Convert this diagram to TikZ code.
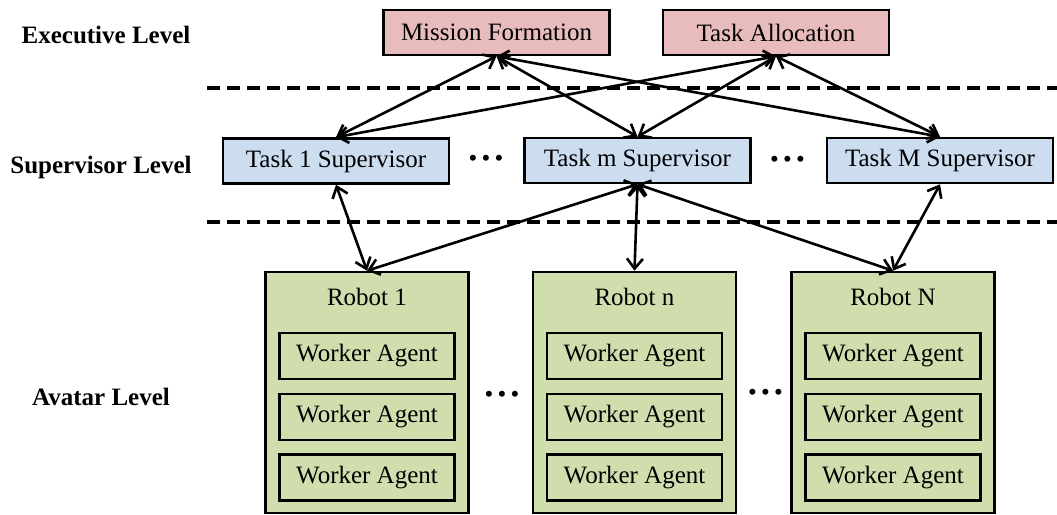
\documentclass[tikz,border=0pt]{standalone}
\usepackage{fontspec}
\setmainfont{Liberation Serif}
\usetikzlibrary{arrows.meta}
\definecolor{execred}{RGB}{232,188,188}
\definecolor{superblue}{RGB}{205,221,240}
\definecolor{robotgreen}{RGB}{208,222,174}
\newcommand{\tridots}{\textbullet\,\textbullet\,\textbullet}

\begin{document}
\begin{tikzpicture}[x=0.5pt,y=-0.5pt,
  font=\fontsize{12.5}{15}\selectfont,
  >={Straight Barb[length=5pt,width=8pt,line width=1.3pt]},
  box/.style={draw,line width=1.3pt,minimum height=22.5pt,inner sep=0pt},
  execbox/.style={box,fill=execred,minimum width=113pt},
  supbox/.style={box,fill=superblue,minimum width=113pt},
  robotbox/.style={box,fill=robotgreen,minimum width=101.5pt,minimum height=120.5pt},
  workerbox/.style={box,minimum width=87.5pt,minimum height=23pt},
  level/.style={font=\fontsize{12.5}{15}\selectfont\bfseries},
  link/.style={<->,line width=1.3pt},
  sep/.style={dash pattern=on 6.5pt off 3.5pt,line width=1.7pt}]

\useasboundingbox (0,0) rectangle (1057,515);

\node[level] (exec) at (106,35) {Executive Level};
\node[level] (super) at (101,167) {Supervisor Level};
\node[level] (avatar) at (101,397) {Avatar Level};

\coordinate (sepa1) at (207,88);
\coordinate (sepa2) at (1060,88);
\coordinate (sepb1) at (207,222);
\coordinate (sepb2) at (1060,222);
\draw[sep] (sepa1) -- (sepa2);
\draw[sep] (sepb1) -- (sepb2);

\node[execbox] (mf) at (496.5,32.5) {Mission Formation};
\node[execbox] (ta) at (776,32.5) {Task Allocation};

\node[supbox] (s1) at (336,161) {Task 1 Supervisor};
\node[supbox] (sm) at (637.5,160.5) {Task m Supervisor};
\node[supbox] (sM) at (940,160.5) {Task M Supervisor};
\node (dots1) at (486,161) {\tridots};
\node (dots2) at (787.5,162) {\tridots};

\foreach \r/\x/\t in {r1/367/1,rn/634.5/n,rN/893/N}{
  \node[robotbox] (\r) at (\x,392.5) {};
  \node (\r-name) at (\x,297) {Robot \t};
  \foreach \y [count=\i] in {356,417,477.5}
    \node[workerbox] (\r-w\i) at (\x,\y) {Worker Agent};
}
\node (dots3) at (502,397) {\tridots};
\node (dots4) at (765.5,395) {\tridots};

\foreach \s in {s1,sm,sM}{
  \draw[link] (mf.south) -- (\s.north);
  \draw[link] (ta.south) -- (\s.north);
}
\draw[link] (s1.south) -- (r1.north);
\foreach \r in {r1,rn,rN}
  \draw[link] (sm.south) -- (\r.north);
\draw[link] (sM.south) -- (rN.north);

\end{tikzpicture}
\end{document}
